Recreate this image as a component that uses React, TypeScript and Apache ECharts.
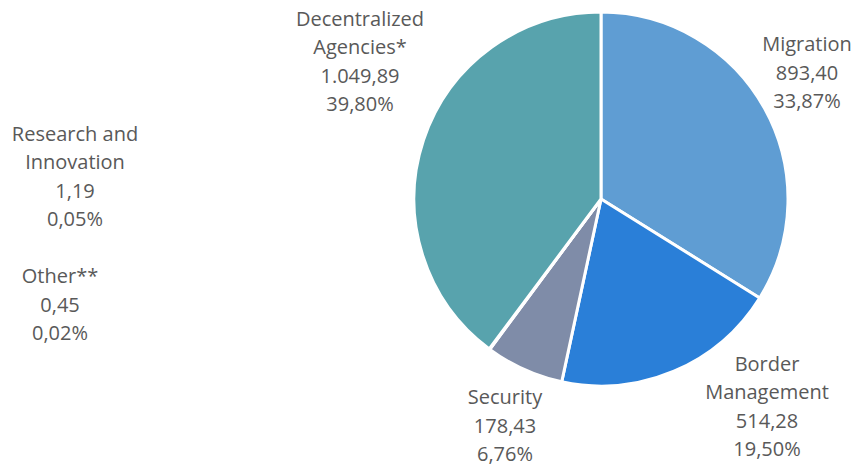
import React, { useEffect, useRef } from "react";
import * as echarts from "echarts";

const names = [
  "Migration",
  "Border\nManagement",
  "Security",
  "Research and\nInnovation",
  "Other**",
  "Decentralized\nAgencies*",
];
const values = [893.4, 514.28, 178.43, 1.19, 0.45, 1049.89];
const valueLabels = ["893,40", "514,28", "178,43", "1,19", "0,45", "1.049,89"];
const percentLabels = ["33,87%", "19,50%", "6,76%", "0,05%", "0,02%", "39,80%"];
const colors = ["#5f9dd3", "#2a7fd8", "#7f8ca8", "#4f81bd", "#a5a5a5", "#58a3ad"];
const labelCenters: [number, number][] = [
  [807, 72],
  [767, 406],
  [505, 425],
  [75, 176],
  [60, 304],
  [360, 61],
];

export default function App() {
  const ref = useRef<HTMLDivElement>(null);
  useEffect(() => {
    document.body.style.margin = "0";
    const chart = echarts.init(ref.current!, undefined, { renderer: "svg" });
    chart.setOption({
      animation: false,
      backgroundColor: "#ffffff",
      series: [
        {
          type: "pie",
          center: [601, 199],
          radius: 187,
          startAngle: 90,
          clockwise: true,
          avoidLabelOverlap: false,
          minShowLabelAngle: 0,
          itemStyle: { borderColor: "#ffffff", borderWidth: 3 },
          label: {
            show: true,
            formatter: (p: any) =>
              `${names[p.dataIndex]}\n${valueLabels[p.dataIndex]}\n${percentLabels[p.dataIndex]}`,
            fontFamily: "Open Sans",
            fontSize: 20,
            lineHeight: 28.5,
            color: "#595959",
            align: "center",
          },
          labelLine: { show: false },
          labelLayout: (params: any) => ({
            x: labelCenters[params.dataIndex][0],
            y: labelCenters[params.dataIndex][1],
            align: "center",
            verticalAlign: "middle",
          }),
          emphasis: { disabled: true },
          data: values.map((v, i) => ({
            name: names[i],
            value: v,
            itemStyle: { color: colors[i] },
          })),
        },
      ],
    });
    return () => chart.dispose();
  }, []);
  return <div ref={ref} style={{ width: 858, height: 468 }} />;
}
